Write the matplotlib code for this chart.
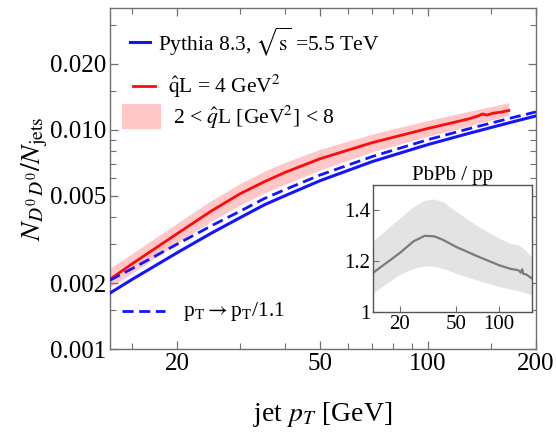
import numpy as np
import matplotlib.pyplot as plt
from matplotlib.ticker import FixedLocator, FixedFormatter, NullFormatter

# jet pT grid [GeV]
pt = [13, 15, 20, 25, 30, 35, 40, 50, 70, 100, 130, 170, 200]
# Pythia 8.3 pp baseline
frac_pp = [0.00180, 0.00208, 0.00275, 0.00339, 0.00398, 0.00455, 0.00501,
           0.00586, 0.00717, 0.00857, 0.00964, 0.01082, 0.01158]
# pp with pT -> pT/1.1
frac_shift = [0.00206, 0.00233, 0.00301, 0.00366, 0.00426, 0.00486, 0.00534,
              0.00622, 0.00756, 0.00902, 0.01012, 0.01132, 0.01208]

# medium, qhat L = 4 GeV^2
pt_med = [13, 15, 20, 25, 30, 35, 40, 50, 70, 100, 130, 138, 142, 146, 152,
          160, 168]
frac_med = [0.00208, 0.00245, 0.00336, 0.00428, 0.00512, 0.00580, 0.00640,
            0.00738, 0.00875, 0.01015, 0.01123, 0.01158, 0.01182, 0.01168,
            0.01192, 0.01205, 0.01226]

# band 2 < qhat L < 8
pt_band = [13, 15, 20, 25, 30, 35, 40, 50, 70, 100, 130, 168]
band_lo = [0.00192, 0.00222, 0.00305, 0.00385, 0.00455, 0.00515, 0.00565,
           0.00655, 0.00795, 0.00935, 0.01040, 0.01165]
band_hi = [0.00234, 0.00273, 0.00375, 0.00478, 0.00570, 0.00648, 0.00712,
           0.00815, 0.00958, 0.01105, 0.01215, 0.01330]

# PbPb / pp ratio
pt_ratio = [13, 15, 20, 25, 30, 35, 40, 50, 70, 100, 120, 135, 138, 142, 145,
            148, 155, 162, 170]
ratio_mid = [1.154, 1.180, 1.232, 1.278, 1.300, 1.298, 1.285, 1.256, 1.220,
             1.184, 1.170, 1.165, 1.162, 1.155, 1.168, 1.150, 1.148, 1.140,
             1.132]
pt_rband = [13, 15, 20, 25, 30, 35, 40, 50, 70, 100, 120, 135, 145, 155, 170]
ratio_lo = [1.074, 1.100, 1.148, 1.172, 1.182, 1.180, 1.172, 1.152, 1.125,
            1.100, 1.090, 1.085, 1.080, 1.075, 1.068]
ratio_hi = [1.280, 1.310, 1.370, 1.415, 1.440, 1.445, 1.435, 1.395, 1.340,
            1.290, 1.270, 1.265, 1.255, 1.240, 1.215]

yticks = [0.001, 0.002, 0.005, 0.010, 0.020]
ytick_labels = ['0.001', '0.002', '0.005', '0.010', '0.020']
yminor = [0.0015, 0.003, 0.004, 0.006, 0.007, 0.008, 0.009, 0.015, 0.03]
xticks = [20, 50, 100, 200]
xminor = [15, 30, 40, 60, 70, 80, 90, 150]

plt.rcParams['font.family'] = 'Liberation Serif'
plt.rcParams['mathtext.fontset'] = 'stix'

blue = '#1414ff'
red = '#ff0a0a'
pink = '#ffc8c8'
frame = '#707070'

fig = plt.figure(figsize=(5.56, 4.41), dpi=100)
ax = fig.add_axes([0.1978, 0.2086, 0.7662, 0.7733])

ax.fill_between(pt_band, band_lo, band_hi, color=pink, lw=0, zorder=1)
ax.plot(pt, frac_pp, color=blue, lw=2.2, zorder=3)
ax.plot(pt, frac_shift, color=blue, lw=2.0, ls=(0, (4, 2)), zorder=4)
ax.plot(pt_med, frac_med, color=red, lw=2.0, zorder=3)

ax.set_xscale('log')
ax.set_yscale('log')
ax.set_xlim(13, 200)
ax.set_ylim(0.001, 0.036)

ax.xaxis.set_major_locator(FixedLocator(xticks))
ax.xaxis.set_major_formatter(FixedFormatter([str(v) for v in xticks]))
ax.xaxis.set_minor_locator(FixedLocator(xminor))
ax.xaxis.set_minor_formatter(NullFormatter())
ax.yaxis.set_major_locator(FixedLocator(yticks))
ax.yaxis.set_major_formatter(FixedFormatter(ytick_labels))
ax.yaxis.set_minor_locator(FixedLocator(yminor))
ax.yaxis.set_minor_formatter(NullFormatter())

ax.tick_params(which='both', direction='in', top=True, right=True,
               color=frame, labelsize=18, pad=3)
ax.tick_params(which='major', length=6, width=0.9)
ax.tick_params(which='minor', length=4, width=0.8)
for s in ax.spines.values():
    s.set_color(frame)
    s.set_linewidth(1.0)

ax.set_xlabel(r'jet $p_T$ [GeV]', fontsize=20, labelpad=18)
ax.set_ylabel(r'$N_{D^0\,D^0}/N_{\rm jets}$', fontsize=20, labelpad=0)

# legend, drawn by hand
tr = ax.transAxes
ax.plot([0.047, 0.094], [0.900, 0.900], color=blue, lw=2.2, transform=tr)
ax.text(0.113, 0.900, r'Pythia 8.3, $\sqrt{\mathrm{s}}$ =5.5 TeV',
        transform=tr, fontsize=15.5, va='center')
ax.plot([0.054, 0.106], [0.771, 0.771], color=red, lw=2.0, transform=tr)
ax.text(0.136, 0.771, r'$\mathrm{\hat{q}}$L = 4 GeV$^2$',
        transform=tr, fontsize=15.5, va='center')
ax.add_patch(plt.Rectangle((0.028, 0.645), 0.092, 0.073, color=pink,
                           lw=0, transform=tr))
ax.text(0.148, 0.680, r'2 < $\hat{q}$L [GeV$^2$] < 8',
        transform=tr, fontsize=15.5, va='center')
ax.plot([0.028, 0.129], [0.111, 0.111], color=blue, lw=2.0,
        ls=(0, (4, 2)), transform=tr)
ax.text(0.171, 0.111, r'p$_\mathrm{T}$$\rightarrow$p$_\mathrm{T}$/1.1',
        transform=tr, fontsize=15.5, va='center')

# inset: PbPb / pp
axi = fig.add_axes([0.6709, 0.2925, 0.2859, 0.2880])
axi.fill_between(pt_rband, ratio_lo, ratio_hi, color='#e3e3e3', lw=0)
axi.plot(pt_ratio, ratio_mid, color='#7a7a7a', lw=1.6)
axi.set_xscale('log')
axi.set_xlim(13, 170)
axi.set_ylim(1.0, 1.5)
axi.xaxis.set_major_locator(FixedLocator([20, 50, 100]))
axi.xaxis.set_major_formatter(FixedFormatter(['20', '50', '100']))
axi.xaxis.set_minor_locator(FixedLocator([]))
axi.yaxis.set_major_locator(FixedLocator([1.0, 1.2, 1.4]))
axi.yaxis.set_major_formatter(FixedFormatter(['1', '1.2', '1.4']))
axi.tick_params(which='both', direction='in', color=frame, labelsize=15,
                length=4, pad=2)
for s in axi.spines.values():
    s.set_color('#555555')
    s.set_linewidth(1.0)
axi.set_title('PbPb / pp', fontsize=15, pad=3)

fig.savefig('out.png', dpi=100)
